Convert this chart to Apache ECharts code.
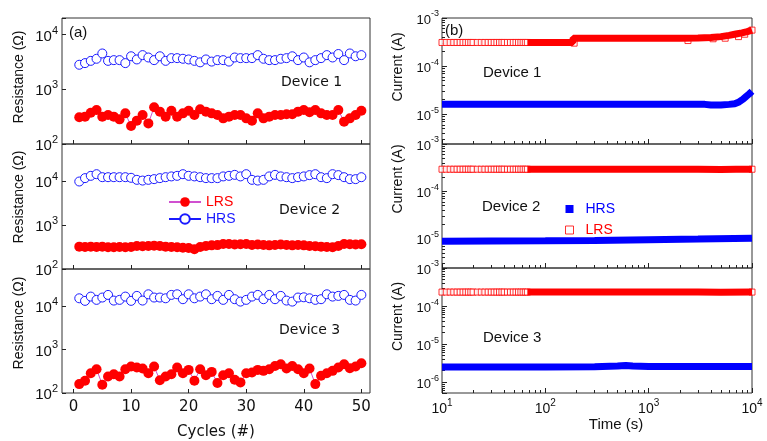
<!DOCTYPE html>
<html><head><meta charset="utf-8">
<script src="https://cdn.jsdelivr.net/npm/echarts@6/dist/echarts.min.js"></script>
<style>html,body{margin:0;padding:0;background:#fff}#c{width:767px;height:441px}</style>
</head><body><div id="c"></div>
<script>
// ---------- data: panel (a) resistance vs cycle ----------
const cycles = [1,2,3,4,5,6,7,8,9,10,11,12,13,14,15,16,17,18,19,20,21,22,23,24,25,26,27,28,29,30,31,32,33,34,35,36,37,38,39,40,41,42,43,44,45,46,47,48,49,50];
const cycleTicks = [0,10,20,30,40,50];
const d1HRS = [2800,3000,3300,3600,4500,3300,3400,3400,3000,4000,3500,4200,3800,3400,4000,3300,3700,3700,3600,3500,3300,3100,3500,3200,3400,3400,3200,3800,3700,3700,3700,4200,3600,3400,3400,3600,3700,4000,3400,3800,3100,3400,3700,4200,3800,4400,3400,4500,4000,4200];
const d1LRS = [307,316,373,418,316,339,316,282,363,213,267,339,238,468,390,316,406,316,363,406,339,430,390,363,339,294,316,339,339,294,267,363,294,316,339,339,350,350,390,418,380,418,363,339,339,418,256,294,339,406];
const d2HRS = [9800,11700,13200,14400,12300,12300,12300,12300,12300,11900,10700,10300,10700,11100,11700,12300,12800,13200,14400,13200,12800,12300,11700,11700,11700,12800,13200,13900,12800,14400,10700,10300,10700,12800,13900,12800,12300,11700,12300,12800,13700,14400,12300,11700,14400,13700,12300,11100,11100,12300];
const d2LRS = [323,318,323,318,323,312,312,318,312,318,335,330,335,340,335,323,318,312,305,300,281,318,335,345,350,372,372,360,365,372,353,360,353,345,353,360,353,345,353,345,335,330,323,318,312,335,372,365,360,365];
const d3HRS = [14900,13000,16300,13700,15500,17800,13200,13700,16300,13000,16900,13200,18400,15500,15500,14900,17800,18400,14200,18400,14900,16300,18400,14200,16900,13700,17800,14200,12500,13700,16300,17800,14200,17800,14200,16900,13200,12500,15500,15700,14900,13700,14200,18400,16300,16900,17800,13700,13200,17800];
const d3LRS = [160,191,285,351,155,239,270,239,351,404,383,364,285,404,197,239,270,383,285,339,191,351,256,305,169,256,285,201,175,285,295,339,322,351,418,456,364,418,351,285,364,160,248,285,322,383,456,370,404,481];

// ---------- data: panel (b) current vs time ----------
const tOpen = [10,11,12,13,14,15,16,17,18,19,20,22,24,26,28,30,32,34,36,38,40,43,46,49,52,55,58,61,64,67,10000];
const d1LRSOpen = [3.1e-4,3.1e-4,3.1e-4,3.1e-4,3.1e-4,3.1e-4,3.1e-4,3.1e-4,3.1e-4,3.1e-4,3.1e-4,3.1e-4,3.1e-4,3.1e-4,3.1e-4,3.1e-4,3.1e-4,3.1e-4,3.1e-4,3.1e-4,3.1e-4,3.1e-4,3.1e-4,3.1e-4,3.1e-4,3.1e-4,3.1e-4,3.1e-4,3.1e-4,3.1e-4,5.6e-4];
const d2LRSOpen = [2.93e-4,2.93e-4,2.93e-4,2.93e-4,2.93e-4,2.93e-4,2.93e-4,2.93e-4,2.93e-4,2.93e-4,2.93e-4,2.93e-4,2.93e-4,2.93e-4,2.93e-4,2.93e-4,2.93e-4,2.93e-4,2.93e-4,2.93e-4,2.93e-4,2.93e-4,2.93e-4,2.93e-4,2.93e-4,2.93e-4,2.93e-4,2.93e-4,2.93e-4,2.93e-4,2.93e-4];
const d3LRSOpen = [2.33e-4,2.33e-4,2.33e-4,2.33e-4,2.33e-4,2.33e-4,2.33e-4,2.33e-4,2.33e-4,2.33e-4,2.33e-4,2.33e-4,2.33e-4,2.33e-4,2.33e-4,2.33e-4,2.33e-4,2.33e-4,2.33e-4,2.33e-4,2.33e-4,2.33e-4,2.33e-4,2.33e-4,2.33e-4,2.33e-4,2.33e-4,2.33e-4,2.33e-4,2.33e-4,2.33e-4];
const d1LRSStray = [[190,3.0e-4],[2400,3.4e-4],[4200,3.7e-4],[5500,3.8e-4],[7400,4.1e-4],[8500,4.6e-4]];
const d1LRSBand = [[67,3.1e-4],[100,3.1e-4],[150,3.1e-4],[184,3.1e-4],[186,3.8e-4],[300,3.8e-4],[500,3.8e-4],[1000,3.8e-4],[2000,3.8e-4],[3000,3.85e-4],[4000,3.95e-4],[5000,4.1e-4],[6000,4.35e-4],[7000,4.65e-4],[8000,4.9e-4],[9000,5.2e-4],[10000,5.6e-4]];
const d1HRSBand = [[10,1.6e-5],[30,1.6e-5],[100,1.6e-5],[300,1.6e-5],[1000,1.6e-5],[2000,1.6e-5],[3500,1.6e-5],[4000,1.55e-5],[5000,1.55e-5],[6000,1.6e-5],[6800,1.65e-5],[7500,1.8e-5],[8200,2.05e-5],[8800,2.35e-5],[9400,2.65e-5],[10000,3.0e-5]];
const d2LRSBand = [[67,2.93e-4],[100,2.93e-4],[300,2.93e-4],[1000,2.93e-4],[3000,2.93e-4],[5000,2.9e-4],[7000,2.93e-4],[10000,2.93e-4]];
const d2HRSBand = [[10,8.8e-6],[30,8.9e-6],[100,9.0e-6],[300,9.2e-6],[1000,9.5e-6],[3000,9.8e-6],[10000,1.02e-5]];
const d3LRSBand = [[67,2.33e-4],[300,2.33e-4],[1000,2.33e-4],[3000,2.33e-4],[5000,2.3e-4],[10000,2.33e-4]];
const d3HRSBand = [[10,2.5e-6],[100,2.5e-6],[300,2.55e-6],[500,2.65e-6],[600,2.75e-6],[700,2.65e-6],[1000,2.6e-6],[3000,2.6e-6],[10000,2.6e-6]];

// ---------- styling ----------
const FA = '"Liberation Sans", Arial, sans-serif';
const FV = '"DejaVu Sans", Verdana, sans-serif';
const INK = '#111';
const RED = '#ff0000', BLUE = '#1a1aff', MAG = '#d050d0';

function supFmt(v) {
  const e = Math.log10(v), r = Math.round(e);
  if (Math.abs(e - r) > 1e-6) return '';
  return '{b|10}{s|' + r + '}';
}
function supRich(fs, ff) {
  return { b: { fontSize: fs, fontFamily: ff, color: INK, padding: [4, 0, 0, 0] },
           s: { fontSize: Math.round(fs * 0.7), fontFamily: ff, color: INK, verticalAlign: 'top' } };
}
function minorList(lo, hi) {
  const out = [];
  for (let e = Math.floor(Math.log10(lo)) - 1; e <= Math.ceil(Math.log10(hi)); e++) {
    for (let k = 2; k <= 9; k++) {
      const v = k * Math.pow(10, e);
      if (v > lo * 1.0001 && v < hi * 0.9999) out.push(Math.log10(v));
    }
  }
  return out;
}

const leftGrids = [{top:18,height:126},{top:144,height:125},{top:269,height:125}];
const rightGrids = [{top:18,height:126},{top:144,height:124},{top:268,height:125}];
const leftYMax = [2e4, 7e4, 7e4];
const rightYMin = [2.4e-6, 2.4e-6, 5.2e-7];
const leftNameShift = [8, 19, 16];
const rightNameShift = [28, 54, 28];
const TICK = '#222';

const grid = [];
leftGrids.forEach(g => grid.push({left:62, width:308, top:g.top, height:g.height, show:true, borderColor:'#333', borderWidth:1}));
rightGrids.forEach(g => grid.push({left:442, width:310, top:g.top, height:g.height, show:true, borderColor:'#333', borderWidth:1}));

const noLine = {show:false, onZero:false};
const xAxis = [], yAxis = [];
for (let i = 0; i < 3; i++) {
  xAxis.push({
    type:'value', gridIndex:i, min:-2, max:51.5, position:'bottom',
    axisLine:noLine, splitLine:{show:false},
    axisTick:{show:true, inside:true, length:4, customValues:cycleTicks, lineStyle:{color:TICK}},
    axisLabel:{show:i===2, customValues:cycleTicks, fontSize:15, fontFamily:FV, color:INK, margin:7},
    name: i===2 ? 'Cycles (#)' : '', nameLocation:'middle', nameGap:32,
    nameTextStyle:{fontSize:15, fontFamily:FV, color:INK}
  });
}
for (let i = 0; i < 3; i++) {
  xAxis.push({
    type:'log', logBase:10, gridIndex:3+i, min:10, max:10000, position:'bottom',
    axisLine:noLine, splitLine:{show:false},
    axisTick:{show:true, inside:true, length:5, lineStyle:{color:TICK}},
    axisLabel:{show:i===2, formatter:supFmt, rich:supRich(14, FA), margin:5},
    name: i===2 ? 'Time (s)' : '', nameLocation:'middle', nameGap:22,
    nameTextStyle:{fontSize:15, fontFamily:FA, color:INK, padding:[0,0,0,38]}
  });
}
const xMinor = minorList(10, 10000);
for (let i = 0; i < 3; i++) {
  xAxis.push({
    type:'value', gridIndex:3+i, min:1, max:4, position:'bottom',
    axisLine:noLine, splitLine:{show:false}, axisLabel:{show:false},
    axisTick:{show:true, inside:true, length:3, customValues:xMinor, lineStyle:{color:TICK}}
  });
}
for (let i = 0; i < 3; i++) {
  yAxis.push({
    type:'log', logBase:10, gridIndex:i, min:100, max:leftYMax[i], position:'left',
    axisLine:noLine, splitLine:{show:false},
    axisTick:{show:true, inside:true, length:4, lineStyle:{color:TICK}},
    axisLabel:{formatter:supFmt, rich:supRich(15, FA), margin:4},
    name:'Resistance (Ω)', nameLocation:'middle', nameGap:36,
    nameTextStyle:{fontSize:14, fontFamily:FA, color:INK, padding:[0,0,0,leftNameShift[i]]}
  });
}
for (let i = 0; i < 3; i++) {
  yAxis.push({
    type:'log', logBase:10, gridIndex:3+i, min:rightYMin[i], max:1e-3, position:'left',
    axisLine:noLine, splitLine:{show:false},
    axisTick:{show:true, inside:true, length:5, lineStyle:{color:TICK}},
    axisLabel:{formatter:supFmt, rich:supRich(13, FA), margin:3},
    name:'Current (A)', nameLocation:'middle', nameGap:37,
    nameTextStyle:{fontSize:14, fontFamily:FA, color:INK, padding:[0,0,0,rightNameShift[i]]}
  });
}
for (let i = 0; i < 3; i++) {
  yAxis.push({
    type:'value', gridIndex:3+i, min:Math.log10(rightYMin[i]), max:-3, position:'left',
    axisLine:noLine, splitLine:{show:false}, axisLabel:{show:false},
    axisTick:{show:true, inside:true, length:3, customValues:minorList(rightYMin[i], 1e-3), lineStyle:{color:TICK}}
  });
}

const leftData = [[d1LRS, d1HRS], [d2LRS, d2HRS], [d3LRS, d3HRS]];
const series = [];
leftData.forEach((pair, i) => {
  series.push({
    type:'line', name:'LRS', xAxisIndex:i, yAxisIndex:i,
    data: cycles.map((c, k) => [c, pair[0][k]]),
    symbol:'circle', symbolSize:10,
    itemStyle:{color:RED}, lineStyle:{color:MAG, width:1}
  });
  series.push({
    type:'line', name:'HRS', xAxisIndex:i, yAxisIndex:i,
    data: cycles.map((c, k) => [c, pair[1][k]]),
    symbol:'circle', symbolSize:9,
    itemStyle:{color:'#fff', borderColor:BLUE, borderWidth:1}, lineStyle:{color:BLUE, width:1}
  });
});
const openStyle = {color:'#fff', borderColor:RED, borderWidth:1};
const rightData = [
  {stray:d1LRSStray, lrs:d1LRSBand, hrs:d1HRSBand, open:d1LRSOpen},
  {stray:[], lrs:d2LRSBand, hrs:d2HRSBand, open:d2LRSOpen},
  {stray:[], lrs:d3LRSBand, hrs:d3HRSBand, open:d3LRSOpen}
];
rightData.forEach((d, i) => {
  const ax = 3 + i;
  series.push({type:'scatter', name:'LRS(b)', xAxisIndex:ax, yAxisIndex:ax, data:d.stray,
    symbol:'rect', symbolSize:[6,6], itemStyle:openStyle});
  series.push({type:'line', name:'LRS(b)', xAxisIndex:ax, yAxisIndex:ax, data:d.lrs,
    symbol:'none', itemStyle:{color:RED}, lineStyle:{color:RED, width:7}});
  series.push({type:'line', name:'HRS(b)', xAxisIndex:ax, yAxisIndex:ax, data:d.hrs,
    symbol:'none', itemStyle:{color:'#0000ff'}, lineStyle:{color:'#0000ff', width:7}});
  series.push({type:'scatter', name:'LRS(b)', xAxisIndex:ax, yAxisIndex:ax,
    data: tOpen.map((t, k) => [t, d.open[k]]),
    symbol:'rect', symbolSize:[6,6], itemStyle:openStyle});
});

const txt = (x, y, s, ff, fs) => ({type:'text', left:x, top:y, style:{text:s, fontFamily:ff, fontSize:fs, fill:INK}});
const option = {
  animation:false,
  backgroundColor:'#fff',
  grid, xAxis, yAxis, series,
  legend:[
    {left:168, top:195, orient:'vertical', itemWidth:32, itemHeight:12, itemGap:3, padding:0,
     selectedMode:false,
     data:[{name:'LRS', textStyle:{color:RED}}, {name:'HRS', textStyle:{color:BLUE}}],
     textStyle:{fontSize:14, fontFamily:FA}},
    {left:565, top:202, orient:'vertical', itemWidth:8, itemHeight:8, itemGap:7, padding:0,
     selectedMode:false,
     formatter: n => n.replace('(b)', ''),
     data:[{name:'HRS(b)', icon:'rect', itemStyle:{color:'#0000ff', borderWidth:0}, textStyle:{color:'#0000ff'}},
           {name:'LRS(b)', icon:'rect', itemStyle:{color:'#fff', borderColor:RED, borderWidth:1}, textStyle:{color:RED}}],
     textStyle:{fontSize:14, fontFamily:FA, padding:[0,0,0,7]}}
  ],
  graphic:[
    txt(69, 25, '(a)', FA, 15),
    txt(445, 23, '(b)', FA, 15),
    txt(281, 75, 'Device 1', FV, 14),
    txt(279, 203, 'Device 2', FV, 14),
    txt(279, 323, 'Device 3', FV, 14),
    txt(483, 65, 'Device 1', FA, 15),
    txt(482, 199, 'Device 2', FA, 15),
    txt(483, 330, 'Device 3', FA, 15)
  ]
};
const chart = echarts.init(document.getElementById('c'), null, {renderer:'canvas'});
chart.setOption(option);
</script></body></html>
